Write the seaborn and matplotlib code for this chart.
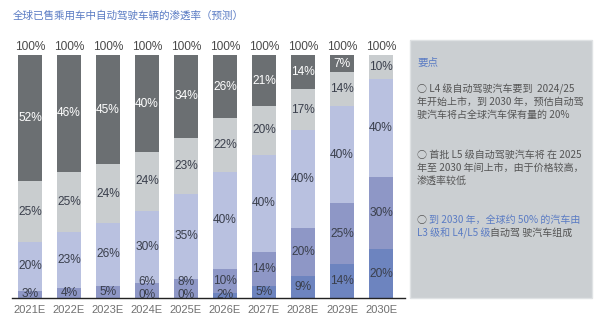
import numpy as np
import matplotlib
matplotlib.use("Agg")
import matplotlib.pyplot as plt
import seaborn as sns
from matplotlib import font_manager
from matplotlib.patches import Rectangle

# ---------------- data ----------------
years = ["2021E", "2022E", "2023E", "2024E", "2025E",
         "2026E", "2027E", "2028E", "2029E", "2030E"]
# bottom -> top (nan = segment/label not shown)
l45 = [np.nan, np.nan, np.nan, 0, 0, 2, 5, 9, 14, 20]
l3 = [3, 4, 5, 6, 8, 10, 14, 20, 25, 30]
l2 = [20, 23, 26, 30, 35, 40, 40, 40, 40, 40]
l1 = [25, 25, 24, 24, 23, 22, 20, 17, 14, 10]
l0 = [52, 46, 45, 40, 34, 26, 21, 14, 7, np.nan]
totals = [100, 100, 100, 100, 100, 100, 100, 100, 100, 100]
series_names = ["L4/L5", "L3", "L2", "L1", "L0"]

title = "全球已售乘用车中自动驾驶车辆的渗透率（预测）"
note_head = "要点"
note1 = ["○ L4 级自动驾驶汽车要到  2024/25",
         "年开始上市，到 2030 年，预估自动驾",
         "驶汽车将占全球汽车保有量的 20%"]
note2 = ["○ 首批 L5 级自动驾驶汽车将 在 2025",
         "年至 2030 年间上市，由于价格较高，",
         "渗透率较低"]
note3_l1 = ["○ ", "到 2030 年，全球约 50% 的汽车由"]
note3_l2 = ["L3 级和 L4/L5 级", "自动驾 驶汽车组成"]

# ---------------- style ----------------
colors = ["#6d84bf", "#8e97c6", "#b9c1e0", "#c9cdcf", "#6b6f72"]
label_colors = ["#3a3f4c", "#3a3f4c", "#3a3f4c", "#3a3f4c", "#ffffff"]
BLUE = "#5b7cc4"
GREY_TXT = "#555555"

sns.set_style("white")
names = {f.name for f in font_manager.fontManager.ttflist}
NUM_FONT = "Liberation Sans Narrow" if "Liberation Sans Narrow" in names else "Liberation Sans"
CJK = ["Noto Sans CJK SC", "DejaVu Sans"]
plt.rcParams["font.family"] = [NUM_FONT, "DejaVu Sans"]

W, H = 600, 331
fig = plt.figure(figsize=(W / 100, H / 100), dpi=100)
fig.patch.set_facecolor("white")

# background panel + notes axes
axn = fig.add_axes([0, 0, 1, 1])
axn.set_xlim(0, W)
axn.set_ylim(H, 0)
axn.axis("off")

ax = fig.add_axes([12 / W, 33 / H, (405 - 12) / W, (298 - 55) / H])

layers = [l45, l3, l2, l1, l0]
vals = np.array([[0 if np.isnan(v) else v for v in layer] for layer in layers], dtype=float)
cum = np.cumsum(vals, axis=0)
# top layer reaches the stated total
cum[-1] = [t if not np.isnan(v) else c for t, v, c in zip(totals, l0, cum[-2])]

# draw from the top layer down (overlapping cumulative bars)
for k in range(len(layers) - 1, -1, -1):
    sns.barplot(x=years, y=cum[k], order=years, color=colors[k], saturation=1,
                width=0.615, ax=ax, linewidth=0)

ax.set_xlim(-0.46, 9.615)
ax.set_ylim(0, 100)
ax.set_xlabel("")
ax.set_ylabel("")
ax.set_yticks([])
for s in ["top", "right", "left"]:
    ax.spines[s].set_visible(False)
ax.spines["bottom"].set_color("#222222")
ax.spines["bottom"].set_linewidth(1.0)
ax.spines["bottom"].set_zorder(5)
ax.tick_params(axis="x", length=0, pad=5, labelsize=8, labelcolor="#707070")
for lab in ax.get_xticklabels():
    lab.set_fontfamily(NUM_FONT)

# segment labels
LBL = 8.6
for i in range(len(years)):
    prev_y = None
    base = 0.0
    for k, layer in enumerate(layers):
        v = layer[i]
        if np.isnan(v):
            continue
        top = cum[k][i]
        y = (base + top) / 2
        if k == 0:
            y = max(y, 1.2)
        if prev_y is not None and y - prev_y < 5.5:
            y = prev_y + 5.5
        ax.text(i, y, f"{int(v)}%", ha="center", va="center", fontsize=LBL,
                color=label_colors[k], family=NUM_FONT, zorder=6, clip_on=False)
        prev_y = y
        base = top
    ax.annotate(f"{totals[i]}%", xy=(i, totals[i]), xytext=(0, 6),
                textcoords="offset points", ha="center", va="center",
                fontsize=LBL, color="#4a4a4a", family=NUM_FONT,
                annotation_clip=False)

# title
axn.text(13, 16, title, ha="left", va="center", fontsize=7.6, color=BLUE, family=CJK)

# notes panel
axn.add_patch(Rectangle((410, 40), 182, 258, facecolor="#cbcfd2",
                        edgecolor="#dfe2e4", linewidth=1.0, zorder=0))
FS = 7.2
axn.text(417, 63, note_head, ha="left", va="center", fontsize=7.6, color=BLUE, family=CJK)
for j, line in enumerate(note1):
    axn.text(417, 89 + 13 * j, line, ha="left", va="center", fontsize=FS,
             color=GREY_TXT, family=CJK)
for j, line in enumerate(note2):
    axn.text(417, 155 + 13 * j, line, ha="left", va="center", fontsize=FS,
             color=GREY_TXT, family=CJK)
t = axn.text(417, 220, note3_l1[0], ha="left", va="center", fontsize=FS,
             color=GREY_TXT, family=CJK)
axn.annotate(note3_l1[1], xy=(1, 0.5), xycoords=t, ha="left", va="center",
             fontsize=FS, color=BLUE, family=CJK)
t2 = axn.text(417, 233, note3_l2[0], ha="left", va="center", fontsize=FS,
              color=BLUE, family=CJK)
axn.annotate(note3_l2[1], xy=(1, 0.5), xycoords=t2, ha="left", va="center",
             fontsize=FS, color=GREY_TXT, family=CJK)

fig.savefig("out.png", dpi=100, facecolor="white")
